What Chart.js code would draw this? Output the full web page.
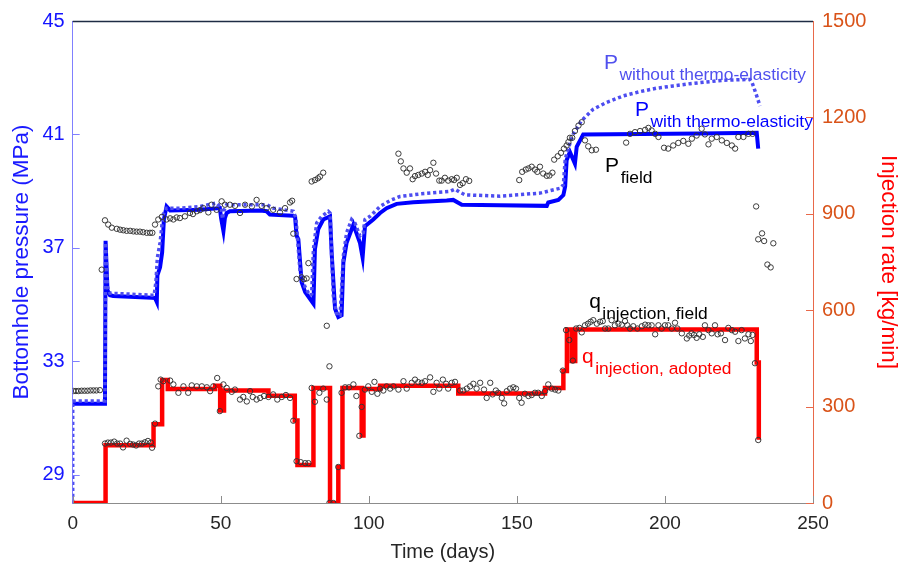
<!DOCTYPE html>
<html>
<head>
<meta charset="utf-8">
<script src="https://cdn.jsdelivr.net/npm/chart.js@4.4.1/dist/chart.umd.min.js"></script>
<style>
  html, body { margin: 0; padding: 0; background: #ffffff; }
  #wrap { width: 903px; height: 571px; }
</style>
</head>
<body>
<div id="wrap"><canvas id="c" width="903" height="571"></canvas></div>
<script>
// ---- axis ticks ----
const timeTicks = [0, 50, 100, 150, 200, 250];
const pressureTicks = [29, 33, 37, 41, 45];
const rateTicks = [0, 300, 600, 900, 1200, 1500];

// ---- adopted injection rate (kg/min), value holds from each listed day ----
const qAdoptedDays  = [0, 11.1, 27.3, 30.2, 32.1, 48.1, 49.8, 51.1, 66.1, 75.0, 75.9, 81.3, 86.9, 89.7, 91.1, 97.6, 98.2, 103.8, 130.2, 159.5, 165.7, 166.9, 168.5, 169.7, 231.0, 231.7];
const qAdoptedRates = [0, 180, 245, 383, 355, 365, 288, 350, 334, 257, 118, 358, 0, 112, 358, 210, 355, 365, 341, 358, 411, 540, 442, 540, 437, 197];

// ---- simulated bottomhole pressure with thermo-elasticity (MPa) ----
const pWithDays = [0.1, 10.9, 11.1, 11.75, 12.6, 13.7, 26.7, 27.8, 28.4, 28.6, 29.5, 30.2, 30.8, 31.7, 32.9, 43.0, 49.7, 50.1, 50.9, 51.4, 52.0, 53.1, 63.3, 65.5, 66.6, 74.5, 75.1, 75.6, 76.2, 77.3, 78.5, 81.3, 81.8, 82.9, 84.6, 86.9, 87.5, 88.6, 89.7, 90.8, 91.4, 92.5, 94.8, 97.0, 97.9, 98.7, 101.5, 103.8, 106.0, 109.4, 115.0, 126.3, 128.5, 131.4, 144.3, 160.1, 160.6, 164.0, 165.7, 166.3, 166.8, 167.9, 169.6, 170.2, 172.4, 211.9, 231.0, 231.5];
const pWithValues = [31.5, 31.5, 37.25, 35.5, 35.33, 35.3, 35.24, 35.23, 35.09, 36.03, 36.31, 36.83, 38.0, 38.46, 38.32, 38.34, 38.4, 38.05, 37.59, 38.05, 38.23, 38.29, 38.32, 38.29, 38.17, 38.13, 38.09, 37.43, 37.3, 35.79, 35.44, 35.03, 36.95, 37.65, 38.0, 38.11, 36.73, 34.85, 34.56, 34.62, 36.48, 37.18, 37.82, 37.18, 36.66, 37.76, 38.0, 38.23, 38.4, 38.55, 38.61, 38.67, 38.69, 38.52, 38.5, 38.48, 38.6, 38.69, 38.86, 39.16, 40.09, 40.38, 39.97, 40.56, 41.0, 41.03, 41.06, 40.5];

// ---- simulated bottomhole pressure without thermo-elasticity (MPa) ----
const pWithoutDays = [0, 0, 10.9, 11.1, 11.75, 12.6, 26.7, 27.5, 28.1, 28.6, 29.5, 30.5, 31.7, 36.2, 43.0, 48.6, 50.1, 50.6, 51.1, 52.0, 65.5, 67.7, 74.5, 75.4, 76.8, 78.5, 80.1, 80.7, 81.3, 82.4, 84.1, 86.3, 86.9, 88.0, 89.2, 90.3, 91.4, 92.5, 94.2, 95.3, 97.0, 98.1, 98.7, 100.4, 103.8, 107.2, 110.5, 117.3, 127.4, 129.1, 130.8, 132.5, 144.3, 157.8, 164.6, 165.7, 166.3, 166.8, 167.9, 169.1, 170.8, 171.9, 175.8, 180.3, 186.0, 191.6, 197.2, 202.8, 208.5, 214.1, 219.7, 228.7, 229.4, 230.8, 232.1];
const pWithoutValues = [28.0, 31.6, 31.6, 37.18, 35.61, 35.4, 35.33, 35.33, 35.79, 36.66, 37.18, 38.16, 38.4, 38.4, 38.46, 38.58, 38.4, 38.02, 38.33, 38.52, 38.52, 38.4, 38.29, 38.05, 36.13, 35.61, 35.32, 35.37, 36.95, 37.88, 38.11, 38.29, 38.23, 35.32, 34.62, 34.62, 36.72, 37.53, 38.0, 37.88, 37.42, 37.53, 38.0, 38.11, 38.46, 38.67, 38.81, 38.9, 38.99, 39.07, 38.96, 38.87, 38.82, 38.93, 39.1, 39.22, 40.09, 40.32, 40.67, 41.02, 41.3, 41.49, 41.89, 42.13, 42.36, 42.51, 42.63, 42.71, 42.79, 42.85, 42.91, 42.94, 42.84, 42.42, 42.0];

// ---- field measurements: [day, bottomhole pressure MPa] ----
const pFieldSamples = [
  [0.2,31.95],[1.1,31.95],[2.0,31.95],[3.0,31.96],[4.0,31.96],[5.0,31.96],[6.0,31.97],[7.0,31.97],[8.0,31.97],[9.2,31.98],
  [9.8,36.23],[10.9,37.97],[12.0,37.82],[13.2,37.71],[14.9,37.67],[16.0,37.64],[17.1,37.62],[18.2,37.6],[19.4,37.6],[20.5,37.58],
  [21.6,37.57],[22.7,37.57],[23.8,37.55],[25.0,37.53],[26.1,37.53],[26.9,37.53],
  [27.8,37.82],[28.9,38.0],[30.1,38.09],[31.7,38.0],[32.9,38.04],[34.0,38.0],[35.1,38.07],[36.2,38.05],[37.9,38.11],[39.6,38.23],
  [40.6,38.19],[41.9,38.29],[43.0,38.33],[44.1,38.4],[45.8,38.25],[46.9,38.52],[48.6,38.34],[50.3,38.64],[51.4,38.52],[53.1,38.52],
  [54.8,38.48],[56.5,38.23],[58.2,38.52],[60.5,38.46],[62.1,38.69],[63.8,38.48],[65.5,38.4],[67.7,38.34],[70.0,38.25],[71.7,38.4],
  [73.4,38.6],[74.1,38.66],[74.5,37.5],
  [75.6,35.9],[77.3,35.96],[78.1,35.89],[79.0,35.92],[79.6,36.46],[80.7,39.34],[81.8,39.39],[82.8,39.45],[83.5,39.51],[84.6,39.65],
  [85.8,34.25],[86.7,32.82],
  [110.0,40.32],[110.8,40.05],[111.7,39.8],[112.8,39.65],[113.9,39.8],[114.8,39.42],[115.6,39.53],[116.7,39.57],[117.9,39.62],[119.0,39.68],
  [119.9,39.57],[120.7,39.74],[121.8,40.0],[122.7,39.62],[123.8,39.37],[124.6,39.37],[125.7,39.47],[126.8,39.37],[128.0,39.42],[128.8,39.39],
  [129.7,39.47],[130.8,39.22],[131.7,39.28],[132.8,39.42],[133.9,39.36],
  [150.8,39.39],[151.8,39.68],[153.0,39.76],[153.9,39.8],[155.0,39.86],[156.1,39.76],[156.9,39.68],[157.8,39.86],[158.9,39.62],[160.1,39.54],
  [161.0,39.55],[162.0,39.65],[162.6,40.11],[163.8,40.23],[164.9,40.35],[165.9,40.5],[166.8,40.61],[167.4,40.73],[167.9,40.88],[168.7,40.88],
  [169.6,41.12],[170.8,41.31],[171.9,41.43],[173.0,40.79],[174.1,40.58],[175.3,40.44],[176.7,40.46],
  [186.9,40.71],[188.2,41.02],[189.9,41.08],[191.6,41.12],[193.3,41.16],[194.4,41.23],[195.5,41.14],[196.7,41.02],[197.8,40.91],[199.7,40.53],
  [201.1,40.5],[202.8,40.61],[204.5,40.7],[206.2,40.77],[207.9,40.67],[209.1,40.85],[210.7,40.96],[212.4,41.2],[213.5,41.0],[214.7,40.65],
  [215.8,40.85],[217.5,40.91],[219.2,40.79],[220.9,40.7],[222.6,40.61],[223.7,40.5],[224.8,40.91],[226.5,40.91],[228.2,41.02],[229.6,41.02],
  [230.8,38.46],[231.5,37.3],[232.8,37.51],[233.5,37.24],[236.6,37.16],[234.6,36.41],[235.7,36.31]
];

// ---- field measurements: [day, injection rate kg/min] ----
const qFieldSamples = [
  [10.9,185],[11.9,188],[12.9,188],[14.0,191],[15.0,185],[16.0,185],[17.0,173],[18.2,194],[19.4,184],[20.4,182],
  [21.4,179],[22.4,185],[23.4,185],[24.4,189],[25.4,193],[26.4,188],[26.8,172],[27.8,247],[28.9,363],[29.7,384],
  [30.6,379],[32.9,381],[34.0,369],[35.7,343],[37.4,363],[39.0,343],[40.2,366],[41.9,363],[43.6,363],[45.3,360],
  [46.4,348],[47.5,363],[48.8,389],[49.7,286],[50.9,369],[52.0,358],[53.7,346],[54.8,353],[56.5,322],[57.6,330],
  [58.8,316],[59.9,348],[60.8,330],[62.1,322],[63.3,327],[64.6,333],[66.1,330],[67.7,338],[69.1,322],[70.6,330],
  [72.0,336],[73.4,327],[74.5,256],[75.6,130],[77.0,127],[78.5,124],[79.6,124],[80.7,358],[81.8,315],[83.3,343],
  [84.6,356],[85.8,322],[86.7,0],[88.0,0],[89.7,112],[90.8,343],[92.0,360],[93.3,360],[94.8,369],[95.8,333],
  [96.8,209],[97.6,299],[98.7,353],[99.8,363],[101.0,346],[101.9,377],[102.9,340],[103.8,356],[104.9,350],[106.0,363],
  [107.2,356],[108.3,363],[110.0,353],[111.7,379],[112.8,356],[114.5,374],[115.6,384],[116.7,376],[117.9,374],[119.0,379],
  [120.7,391],[121.8,346],[122.9,374],[123.8,356],[125.0,384],[126.1,371],[126.8,356],[128.0,374],[129.1,377],[130.8,350],
  [131.9,350],[133.1,356],[134.2,363],[135.3,371],[136.4,356],[137.6,374],[138.9,353],[139.8,327],[141.0,374],[141.8,338],
  [142.9,350],[143.7,343],[144.9,327],[145.7,310],[146.6,348],[147.7,356],[148.8,360],[149.7,356],[150.8,327],[151.6,312],
  [152.7,340],[153.9,333],[155.0,336],[156.1,343],[157.2,343],[158.4,333],[159.5,348],[160.6,369],[161.8,356],[162.9,353],
  [164.0,350],[165.5,412],[166.6,538],[167.7,507],[168.9,443],[170.0,543],[171.1,545],[171.9,531],[173.0,553],[174.0,558],
  [174.9,564],[175.8,569],[177.0,558],[178.1,564],[179.0,566],[179.8,543],[180.9,543],[182.0,569],[183.1,553],[184.3,558],
  [185.4,555],[186.5,566],[187.3,553],[188.2,543],[189.3,550],[190.7,543],[192.2,550],[193.3,555],[194.4,553],[195.5,553],
  [196.7,525],[197.8,553],[198.9,543],[200.0,553],[201.1,553],[202.3,543],[203.4,561],[204.2,543],[205.7,528],[207.4,512],
  [208.2,521],[209.0,528],[209.8,523],[210.7,514],[211.6,525],[212.8,517],[213.5,553],[214.7,538],[215.8,528],[216.9,553],
  [217.8,525],[218.9,528],[220.3,507],[221.4,545],[222.6,538],[223.7,533],[224.8,504],[225.9,538],[227.0,512],[228.2,525],
  [229.0,504],[229.6,523],[230.4,435],[231.5,196]
];

const FONT = "'Liberation Sans', Arial, Helvetica, sans-serif";

const zip = (xs, ys) => xs.map((x, i) => ({ x: x, y: ys[i] }));
const pairs = arr => arr.map(p => ({ x: p[0], y: p[1] }));
const plainNumber = v => String(v);

// in-plot text labels with subscripts, anchored in data coordinates
const curveLabels = [
  { main: 'P', sub: 'without thermo-elasticity', day: 179.4, value: 43.32, axis: 'yp', color: '#5050ee' },
  { main: 'P', sub: 'with thermo-elasticity',    day: 189.9, value: 41.66, axis: 'yp', color: '#0000ff' },
  { main: 'P', sub: 'field',                     day: 179.8, value: 39.66, axis: 'yp', color: '#000000' },
  { main: 'q', sub: 'injection, field',          day: 174.4, value: 607,   axis: 'yq', color: '#000000' },
  { main: 'q', sub: 'injection, adopted',        day: 172.0, value: 435,   axis: 'yq', color: '#ff0000' }
];

const frameAndTicks = {
  id: 'frameAndTicks',
  afterDraw(chart) {
    const { ctx, chartArea: a, scales } = chart;
    ctx.save();
    const L = 7;
    ctx.lineWidth = 1;
    // bottom ticks (inward)
    ctx.strokeStyle = '#8c8c8c';
    timeTicks.forEach(v => {
      const px = Math.round(scales.x.getPixelForValue(v)) + 0.5;
      ctx.beginPath(); ctx.moveTo(px, a.bottom); ctx.lineTo(px, a.bottom - L); ctx.stroke();
    });
    // left ticks
    ctx.strokeStyle = '#7f7fff';
    pressureTicks.forEach(v => {
      const py = Math.round(scales.yp.getPixelForValue(v)) + 0.5;
      ctx.beginPath(); ctx.moveTo(a.left, py); ctx.lineTo(a.left + L, py); ctx.stroke();
    });
    // right ticks
    ctx.strokeStyle = '#e8694a';
    rateTicks.forEach(v => {
      const py = Math.round(scales.yq.getPixelForValue(v)) + 0.5;
      ctx.beginPath(); ctx.moveTo(a.right, py); ctx.lineTo(a.right - L, py); ctx.stroke();
    });
    // top frame line
    ctx.strokeStyle = '#1e2c44';
    ctx.lineWidth = 1.3;
    ctx.beginPath(); ctx.moveTo(a.left, a.top + 0.5); ctx.lineTo(a.right, a.top + 0.5); ctx.stroke();

    // curve labels
    ctx.textAlign = 'left';
    ctx.textBaseline = 'alphabetic';
    curveLabels.forEach(lb => {
      const x = scales.x.getPixelForValue(lb.day);
      const y = scales[lb.axis].getPixelForValue(lb.value);
      ctx.fillStyle = lb.color;
      ctx.font = '21px ' + FONT;
      ctx.fillText(lb.main, x, y);
      const w = ctx.measureText(lb.main).width;
      ctx.font = '17.4px ' + FONT;
      ctx.fillText(lb.sub, x + w + 1.5, y + 11);
    });
    ctx.restore();
  }
};

const chart = new Chart(document.getElementById('c'), {
  type: 'line',
  data: {
    datasets: [
      {
        label: 'q injection, field',
        data: pairs(qFieldSamples),
        yAxisID: 'yq',
        showLine: false,
        pointStyle: 'circle',
        pointRadius: 2.7,
        pointBorderWidth: 0.95,
        pointBorderColor: '#333333',
        pointBackgroundColor: 'rgba(0,0,0,0)',
        order: 0
      },
      {
        label: 'P field',
        data: pairs(pFieldSamples),
        yAxisID: 'yp',
        showLine: false,
        pointStyle: 'circle',
        pointRadius: 2.7,
        pointBorderWidth: 0.95,
        pointBorderColor: '#333333',
        pointBackgroundColor: 'rgba(0,0,0,0)',
        order: 0
      },
      {
        label: 'q injection, adopted',
        data: zip(qAdoptedDays, qAdoptedRates),
        yAxisID: 'yq',
        stepped: 'before',
        borderColor: '#ff0000',
        borderWidth: 4.5,
        pointRadius: 0,
        fill: false,
        order: 1
      },
      {
        label: 'P without thermo-elasticity',
        data: zip(pWithoutDays, pWithoutValues),
        yAxisID: 'yp',
        borderColor: '#4d4df0',
        borderWidth: 3.5,
        borderDash: [3.2, 2.8],
        borderCapStyle: 'butt',
        pointRadius: 0,
        fill: false,
        order: 2
      },
      {
        label: 'P with thermo-elasticity',
        data: zip(pWithDays, pWithValues),
        yAxisID: 'yp',
        borderColor: '#0000ff',
        borderWidth: 4,
        pointRadius: 0,
        fill: false,
        order: 3
      }
    ]
  },
  options: {
    responsive: false,
    animation: false,
    devicePixelRatio: 1,
    layout: { padding: { top: 16, left: 0, right: 0, bottom: 0 } },
    plugins: { legend: { display: false }, tooltip: { enabled: false } },
    elements: { line: { tension: 0 } },
    scales: {
      x: {
        type: 'linear',
        min: 0, max: 250,
        afterBuildTicks: s => { s.ticks = timeTicks.map(v => ({ value: v })); },
        afterFit: s => { s.height = 68; },
        grid: { display: false, drawTicks: false, tickLength: 0 },
        border: { display: true, color: '#8c8c8c', width: 1 },
        ticks: { color: '#262626', font: { family: FONT, size: 19 }, padding: 9, maxRotation: 0, autoSkip: false, callback: plainNumber },
        title: { display: true, text: 'Time (days)', color: '#262626', font: { family: FONT, size: 20 }, padding: { top: 0, bottom: 7 } }
      },
      yp: {
        type: 'linear',
        position: 'left',
        min: 28, max: 45,
        afterBuildTicks: s => { s.ticks = pressureTicks.map(v => ({ value: v })); },
        afterFit: s => { s.width = 72.7; },
        grid: { display: false, drawTicks: false, tickLength: 0 },
        border: { display: true, color: '#8080ff', width: 1 },
        ticks: { color: '#1414ff', font: { family: FONT, size: 20 }, padding: 8, callback: plainNumber },
        title: { display: true, text: 'Bottomhole pressure (MPa)', color: '#1a1aff', font: { family: FONT, size: 22.5 }, padding: { top: 8.5, bottom: 0 } }
      },
      yq: {
        type: 'linear',
        position: 'right',
        min: 0, max: 1500,
        afterBuildTicks: s => { s.ticks = rateTicks.map(v => ({ value: v })); },
        afterFit: s => { s.width = 90; },
        grid: { display: false, drawTicks: false, tickLength: 0 },
        border: { display: true, color: '#e8694a', width: 1 },
        ticks: { color: '#d95319', font: { family: FONT, size: 20 }, padding: 9, callback: plainNumber },
        title: { display: true, text: 'Injection rate [kg/min]', color: '#ff0000', font: { family: FONT, size: 22.5 }, padding: { top: 1.5, bottom: 0 } }
      }
    }
  },
  plugins: [frameAndTicks]
});
</script>
</body>
</html>
